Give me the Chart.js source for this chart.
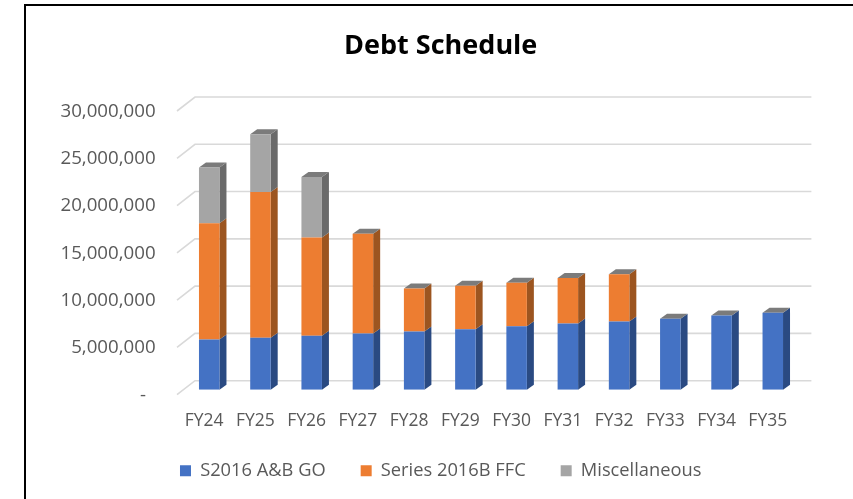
<!DOCTYPE html>
<html>
<head>
<meta charset="utf-8">
<script src="https://cdn.jsdelivr.net/npm/chart.js@4"></script>
<style>
html,body{margin:0;padding:0;background:#fff;width:853px;height:499px;overflow:hidden}
#frame{position:absolute;left:24px;top:4px;width:829px;height:495px;border-left:2px solid #000;border-top:2px solid #000;box-sizing:border-box}
canvas{position:absolute;left:0;top:0}
</style>
</head>
<body>
<div id="frame"></div>
<canvas id="c" width="853" height="499"></canvas>
<script>
const categories = ["FY24","FY25","FY26","FY27","FY28","FY29","FY30","FY31","FY32","FY33","FY34","FY35"];
const seriesGO   = [5300000,5500000,5700000,5950000,6150000,6400000,6700000,7000000,7200000,7500000,7850000,8150000];
const seriesFFC  = [12300000,15400000,10400000,10550000,4550000,4600000,4600000,4800000,5000000,0,0,0];
const seriesMisc = [5900000,6100000,6400000,0,0,0,0,0,0,0,0,0];
const yTicks = [0,5000000,10000000,15000000,20000000,25000000,30000000];

const FONT = '"Open Sans"';
const TEXT = '#595959';
const DX = 7, DY = 5;
const sideColors = ['#2a4a82','#9c5520','#6a6a6a'];
const capColor = '#7b7b7b';

const depth3d = {
  id:'depth3d',
  afterLayout(chart){
    chart.scales.y.left = 0;
    chart.scales.x.bottom = chart.height;
  },
  beforeDatasetsDraw(chart){
    const c = chart.ctx, y = chart.scales.y, a = chart.chartArea;
    c.save();
    c.strokeStyle = '#d9d9d9'; c.lineWidth = 1.6;
    yTicks.forEach(v=>{
      const p = y.getPixelForValue(v);
      c.beginPath();
      c.moveTo(a.left-6.6,p+5);
      c.lineTo(a.left+11.4,p-9);
      c.lineTo(a.right+13,p-9);
      c.stroke();
    });
    chart.data.datasets.forEach((d,i)=>{
      chart.getDatasetMeta(i).data.forEach(b=>{
        const r = b.x+b.width/2;
        c.fillStyle = sideColors[i];
        c.beginPath();
        c.moveTo(r,b.y); c.lineTo(r+DX,b.y-DY); c.lineTo(r+DX,b.base-DY); c.lineTo(r,b.base);
        c.closePath(); c.fill();
      });
    });
    const last = chart.getDatasetMeta(chart.data.datasets.length-1).data;
    last.forEach(b=>{
      const l = b.x-b.width/2, r = b.x+b.width/2;
      c.fillStyle = capColor;
      c.beginPath();
      c.moveTo(l,b.y); c.lineTo(l+DX,b.y-DY); c.lineTo(r+DX,b.y-DY); c.lineTo(r,b.y);
      c.closePath(); c.fill();
    });
    c.restore();
  }
};

new Chart(document.getElementById('c'),{
  type:'bar',
  data:{
    labels:categories,
    datasets:[
      {label:'S2016 A&B GO',data:seriesGO,backgroundColor:'#4472C4'},
      {label:'Series 2016B FFC',data:seriesFFC,backgroundColor:'#ED7D31'},
      {label:'Miscellaneous',data:seriesMisc,backgroundColor:'#A5A5A5'}
    ]
  },
  options:{
    responsive:false,
    animation:false,
    barPercentage:0.4,
    categoryPercentage:1,
    layout:{autoPadding:false,padding:{left:83,right:54.6,top:0,bottom:9}},
    plugins:{
      tooltip:{enabled:false},
      title:{display:true,text:'Debt Schedule',color:'#000',
        font:{family:FONT,size:27,weight:'bold'},padding:{top:30,bottom:43.6}},
      legend:{position:'bottom',
        labels:{color:TEXT,font:{family:FONT,size:18.3},boxWidth:11,boxHeight:11,padding:35}}
    },
    scales:{
      x:{stacked:true,grid:{display:false},border:{display:false},
        afterFit(s){s.height=37;},
        ticks:{color:TEXT,font:{family:FONT,size:17.5},padding:13,labelOffset:-5,maxRotation:0,autoSkip:false}},
      y:{stacked:true,min:0,max:30000000,grid:{display:false},border:{display:false},
        afterFit(s){s.width=100.6;},
        afterBuildTicks(s){s.ticks=yTicks.map(v=>({value:v}));},
        ticks:{color:TEXT,font:{family:FONT,size:18.7},padding:20,labelOffset:5.5,
          callback:v=>v===0?'-  ':v.toLocaleString('en-US')}}
    }
  },
  plugins:[depth3d]
});
</script>
</body>
</html>
